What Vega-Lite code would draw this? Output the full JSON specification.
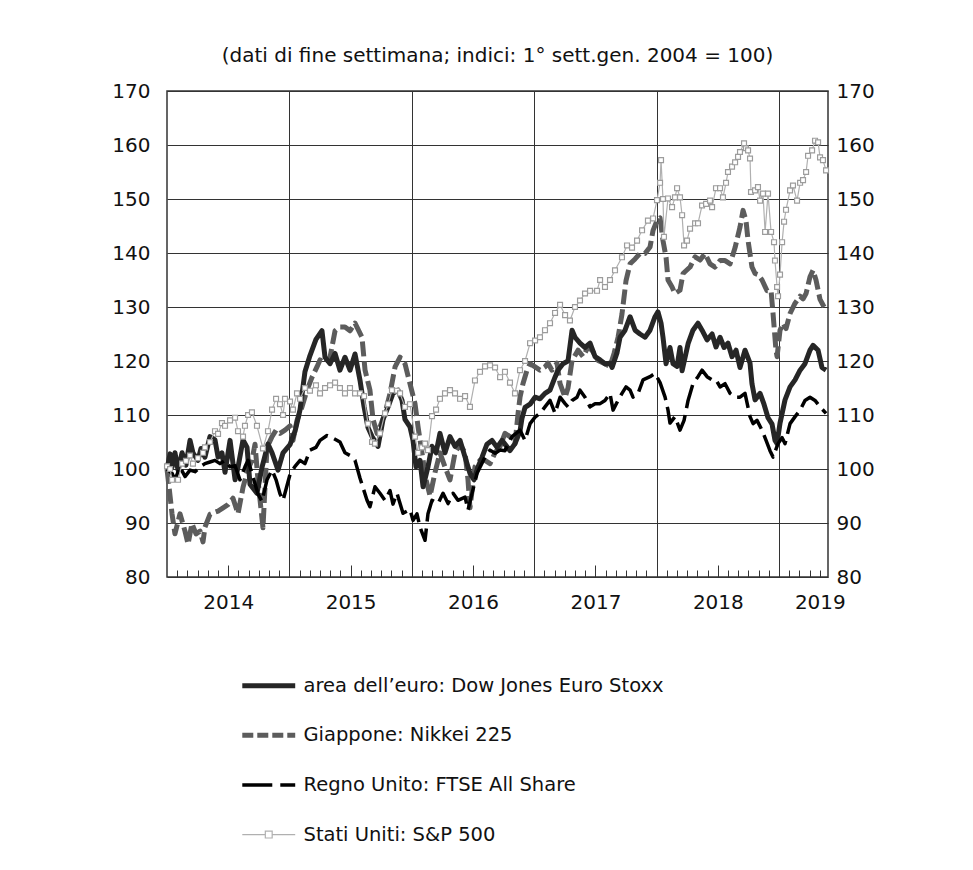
{
"$schema": "https://vega.github.io/schema/vega-lite/v6.json",
"width": 661, "height": 486,
"autosize": {"type": "none"},
"padding": {"left": 167, "top": 91, "right": 145, "bottom": 293},
"background": "#ffffff",
"title": {"text": "(dati di fine settimana; indici: 1° sett.gen. 2004 = 100)", "font": "DejaVu Sans", "fontSize": 20, "fontWeight": "normal", "color": "#111111", "offset": 15},
"config": {"view": {"stroke": "#333333", "strokeWidth": 1.5}, "font": "DejaVu Sans"},
"data": {"values": [
{"s":"EU","t":2014.000,"v":100},{"s":"EU","t":2014.025,"v":102.8},{"s":"EU","t":2014.041,"v":100.3},{"s":"EU","t":2014.065,"v":103},{"s":"EU","t":2014.090,"v":99.8},{"s":"EU","t":2014.123,"v":103},{"s":"EU","t":2014.155,"v":100.7},{"s":"EU","t":2014.188,"v":105.3},{"s":"EU","t":2014.212,"v":103},{"s":"EU","t":2014.253,"v":101.6},{"s":"EU","t":2014.278,"v":103.8},{"s":"EU","t":2014.310,"v":102.2},{"s":"EU","t":2014.351,"v":106},{"s":"EU","t":2014.392,"v":105.4},{"s":"EU","t":2014.417,"v":102.2},{"s":"EU","t":2014.449,"v":103},{"s":"EU","t":2014.474,"v":99.4},{"s":"EU","t":2014.515,"v":105.3},{"s":"EU","t":2014.556,"v":98},{"s":"EU","t":2014.580,"v":100.3},{"s":"EU","t":2014.621,"v":105.4},{"s":"EU","t":2014.654,"v":104},{"s":"EU","t":2014.678,"v":97.2},{"s":"EU","t":2014.735,"v":95.5},{"s":"EU","t":2014.776,"v":100.3},{"s":"EU","t":2014.825,"v":104.6},{"s":"EU","t":2014.858,"v":103},{"s":"EU","t":2014.907,"v":99.8},{"s":"EU","t":2014.948,"v":103},{"s":"EU","t":2015.005,"v":104.5},{"s":"EU","t":2015.046,"v":107},{"s":"EU","t":2015.087,"v":111},{"s":"EU","t":2015.127,"v":118},{"s":"EU","t":2015.168,"v":121},{"s":"EU","t":2015.217,"v":124},{"s":"EU","t":2015.266,"v":125.6},{"s":"EU","t":2015.291,"v":120.7},{"s":"EU","t":2015.332,"v":119.5},{"s":"EU","t":2015.373,"v":121.4},{"s":"EU","t":2015.413,"v":118.3},{"s":"EU","t":2015.454,"v":120.7},{"s":"EU","t":2015.495,"v":118.3},{"s":"EU","t":2015.536,"v":121.3},{"s":"EU","t":2015.577,"v":116.4},{"s":"EU","t":2015.610,"v":111.5},{"s":"EU","t":2015.642,"v":107.7},{"s":"EU","t":2015.675,"v":106},{"s":"EU","t":2015.724,"v":104.2},{"s":"EU","t":2015.765,"v":109.2},{"s":"EU","t":2015.806,"v":111.5},{"s":"EU","t":2015.846,"v":114},{"s":"EU","t":2015.887,"v":114.6},{"s":"EU","t":2015.920,"v":112.7},{"s":"EU","t":2015.944,"v":109.2},{"s":"EU","t":2015.985,"v":107.8},{"s":"EU","t":2016.010,"v":105.3},{"s":"EU","t":2016.034,"v":100.4},{"s":"EU","t":2016.067,"v":101.6},{"s":"EU","t":2016.092,"v":96.7},{"s":"EU","t":2016.132,"v":100.4},{"s":"EU","t":2016.165,"v":104.2},{"s":"EU","t":2016.198,"v":103},{"s":"EU","t":2016.230,"v":106.6},{"s":"EU","t":2016.271,"v":103},{"s":"EU","t":2016.312,"v":106},{"s":"EU","t":2016.353,"v":104.2},{"s":"EU","t":2016.394,"v":105.3},{"s":"EU","t":2016.435,"v":102.2},{"s":"EU","t":2016.475,"v":99.2},{"s":"EU","t":2016.508,"v":98},{"s":"EU","t":2016.541,"v":100.4},{"s":"EU","t":2016.574,"v":102.2},{"s":"EU","t":2016.614,"v":104.6},{"s":"EU","t":2016.655,"v":105.3},{"s":"EU","t":2016.696,"v":104},{"s":"EU","t":2016.737,"v":105.3},{"s":"EU","t":2016.802,"v":103.4},{"s":"EU","t":2016.843,"v":104.7},{"s":"EU","t":2016.884,"v":107},{"s":"EU","t":2016.900,"v":109.4},{"s":"EU","t":2016.925,"v":111.4},{"s":"EU","t":2016.966,"v":112},{"s":"EU","t":2017.007,"v":113.3},{"s":"EU","t":2017.047,"v":113},{"s":"EU","t":2017.088,"v":114},{"s":"EU","t":2017.129,"v":114.6},{"s":"EU","t":2017.170,"v":117},{"s":"EU","t":2017.194,"v":118.3},{"s":"EU","t":2017.235,"v":119.5},{"s":"EU","t":2017.276,"v":120},{"s":"EU","t":2017.309,"v":125.7},{"s":"EU","t":2017.333,"v":124.4},{"s":"EU","t":2017.374,"v":123.3},{"s":"EU","t":2017.415,"v":122.5},{"s":"EU","t":2017.456,"v":123.3},{"s":"EU","t":2017.497,"v":120.8},{"s":"EU","t":2017.538,"v":120.2},{"s":"EU","t":2017.578,"v":119.5},{"s":"EU","t":2017.619,"v":119.6},{"s":"EU","t":2017.636,"v":118.8},{"s":"EU","t":2017.676,"v":121.5},{"s":"EU","t":2017.701,"v":124.4},{"s":"EU","t":2017.742,"v":125.7},{"s":"EU","t":2017.783,"v":128.2},{"s":"EU","t":2017.824,"v":125.7},{"s":"EU","t":2017.864,"v":125},{"s":"EU","t":2017.905,"v":124.4},{"s":"EU","t":2017.946,"v":125.7},{"s":"EU","t":2017.987,"v":128.2},{"s":"EU","t":2018.011,"v":129.1},{"s":"EU","t":2018.036,"v":127},{"s":"EU","t":2018.052,"v":124.4},{"s":"EU","t":2018.077,"v":119.5},{"s":"EU","t":2018.109,"v":122.5},{"s":"EU","t":2018.134,"v":119.5},{"s":"EU","t":2018.167,"v":119},{"s":"EU","t":2018.191,"v":122.5},{"s":"EU","t":2018.208,"v":118.2},{"s":"EU","t":2018.257,"v":123.2},{"s":"EU","t":2018.297,"v":125.7},{"s":"EU","t":2018.338,"v":127},{"s":"EU","t":2018.371,"v":125.7},{"s":"EU","t":2018.412,"v":123.9},{"s":"EU","t":2018.453,"v":125},{"s":"EU","t":2018.485,"v":122.6},{"s":"EU","t":2018.518,"v":124.4},{"s":"EU","t":2018.551,"v":122.5},{"s":"EU","t":2018.583,"v":123.3},{"s":"EU","t":2018.616,"v":120.8},{"s":"EU","t":2018.649,"v":122},{"s":"EU","t":2018.681,"v":118.8},{"s":"EU","t":2018.722,"v":122},{"s":"EU","t":2018.763,"v":119.6},{"s":"EU","t":2018.779,"v":115.8},{"s":"EU","t":2018.804,"v":112.8},{"s":"EU","t":2018.845,"v":114},{"s":"EU","t":2018.877,"v":112},{"s":"EU","t":2018.910,"v":109.5},{"s":"EU","t":2018.943,"v":108.3},{"s":"EU","t":2018.967,"v":105.3},{"s":"EU","t":2018.984,"v":104.7},{"s":"EU","t":2018.992,"v":106},{"s":"EU","t":2019.008,"v":108.5},{"s":"EU","t":2019.049,"v":112.8},{"s":"EU","t":2019.090,"v":115.2},{"s":"EU","t":2019.131,"v":116.5},{"s":"EU","t":2019.172,"v":118.3},{"s":"EU","t":2019.212,"v":119.5},{"s":"EU","t":2019.253,"v":122},{"s":"EU","t":2019.278,"v":122.9},{"s":"EU","t":2019.319,"v":122},{"s":"EU","t":2019.351,"v":118.8},{"s":"EU","t":2019.384,"v":118.3},
{"s":"JP","t":2014.000,"v":100},{"s":"JP","t":2014.025,"v":95},{"s":"JP","t":2014.041,"v":91.7},{"s":"JP","t":2014.065,"v":88},{"s":"JP","t":2014.106,"v":91.7},{"s":"JP","t":2014.147,"v":88.5},{"s":"JP","t":2014.172,"v":86.1},{"s":"JP","t":2014.204,"v":89.9},{"s":"JP","t":2014.237,"v":88},{"s":"JP","t":2014.270,"v":88.5},{"s":"JP","t":2014.294,"v":86.5},{"s":"JP","t":2014.310,"v":89.2},{"s":"JP","t":2014.351,"v":91.6},{"s":"JP","t":2014.392,"v":92},{"s":"JP","t":2014.417,"v":92.2},{"s":"JP","t":2014.458,"v":92.8},{"s":"JP","t":2014.498,"v":93.4},{"s":"JP","t":2014.539,"v":94.6},{"s":"JP","t":2014.580,"v":91.7},{"s":"JP","t":2014.621,"v":96.6},{"s":"JP","t":2014.662,"v":100},{"s":"JP","t":2014.694,"v":101.6},{"s":"JP","t":2014.719,"v":104.6},{"s":"JP","t":2014.743,"v":98},{"s":"JP","t":2014.784,"v":89.1},{"s":"JP","t":2014.817,"v":104},{"s":"JP","t":2014.858,"v":106},{"s":"JP","t":2014.891,"v":107.2},{"s":"JP","t":2014.923,"v":106.6},{"s":"JP","t":2014.964,"v":107.2},{"s":"JP","t":2015.005,"v":108},{"s":"JP","t":2015.029,"v":105.3},{"s":"JP","t":2015.062,"v":109},{"s":"JP","t":2015.103,"v":111.5},{"s":"JP","t":2015.144,"v":114.6},{"s":"JP","t":2015.185,"v":117},{"s":"JP","t":2015.225,"v":118.9},{"s":"JP","t":2015.250,"v":120.2},{"s":"JP","t":2015.291,"v":119.6},{"s":"JP","t":2015.332,"v":120.7},{"s":"JP","t":2015.373,"v":125.6},{"s":"JP","t":2015.413,"v":126.3},{"s":"JP","t":2015.454,"v":126.3},{"s":"JP","t":2015.495,"v":125.6},{"s":"JP","t":2015.536,"v":127},{"s":"JP","t":2015.593,"v":124.4},{"s":"JP","t":2015.618,"v":118.3},{"s":"JP","t":2015.658,"v":114.6},{"s":"JP","t":2015.683,"v":109.2},{"s":"JP","t":2015.716,"v":106.6},{"s":"JP","t":2015.740,"v":107.8},{"s":"JP","t":2015.781,"v":110.3},{"s":"JP","t":2015.822,"v":114},{"s":"JP","t":2015.863,"v":118.9},{"s":"JP","t":2015.904,"v":120.7},{"s":"JP","t":2015.944,"v":119.5},{"s":"JP","t":2015.985,"v":115.8},{"s":"JP","t":2016.026,"v":112.1},{"s":"JP","t":2016.051,"v":107.8},{"s":"JP","t":2016.083,"v":103},{"s":"JP","t":2016.116,"v":98},{"s":"JP","t":2016.149,"v":95},{"s":"JP","t":2016.190,"v":99.4},{"s":"JP","t":2016.230,"v":103},{"s":"JP","t":2016.271,"v":100.4},{"s":"JP","t":2016.312,"v":98},{"s":"JP","t":2016.353,"v":103},{"s":"JP","t":2016.394,"v":104.6},{"s":"JP","t":2016.435,"v":103},{"s":"JP","t":2016.459,"v":98},{"s":"JP","t":2016.475,"v":92.8},{"s":"JP","t":2016.516,"v":100.4},{"s":"JP","t":2016.557,"v":101.6},{"s":"JP","t":2016.598,"v":101.6},{"s":"JP","t":2016.639,"v":101},{"s":"JP","t":2016.680,"v":103},{"s":"JP","t":2016.721,"v":104.2},{"s":"JP","t":2016.761,"v":106.6},{"s":"JP","t":2016.802,"v":106},{"s":"JP","t":2016.843,"v":104.7},{"s":"JP","t":2016.868,"v":110.3},{"s":"JP","t":2016.884,"v":113.3},{"s":"JP","t":2016.908,"v":115.8},{"s":"JP","t":2016.941,"v":118.3},{"s":"JP","t":2016.966,"v":119.5},{"s":"JP","t":2017.007,"v":118.9},{"s":"JP","t":2017.047,"v":118.3},{"s":"JP","t":2017.088,"v":118.9},{"s":"JP","t":2017.113,"v":119.6},{"s":"JP","t":2017.145,"v":118.3},{"s":"JP","t":2017.186,"v":119.6},{"s":"JP","t":2017.211,"v":115.8},{"s":"JP","t":2017.252,"v":113.3},{"s":"JP","t":2017.276,"v":115},{"s":"JP","t":2017.309,"v":120.1},{"s":"JP","t":2017.358,"v":122},{"s":"JP","t":2017.399,"v":120.8},{"s":"JP","t":2017.440,"v":122.6},{"s":"JP","t":2017.472,"v":122},{"s":"JP","t":2017.521,"v":120.1},{"s":"JP","t":2017.578,"v":119.5},{"s":"JP","t":2017.619,"v":119},{"s":"JP","t":2017.652,"v":121.4},{"s":"JP","t":2017.685,"v":124.4},{"s":"JP","t":2017.717,"v":128.7},{"s":"JP","t":2017.750,"v":134.9},{"s":"JP","t":2017.783,"v":138},{"s":"JP","t":2017.824,"v":138.9},{"s":"JP","t":2017.864,"v":139.9},{"s":"JP","t":2017.905,"v":139.9},{"s":"JP","t":2017.946,"v":141.1},{"s":"JP","t":2017.971,"v":144.2},{"s":"JP","t":2018.003,"v":146},{"s":"JP","t":2018.028,"v":146.5},{"s":"JP","t":2018.052,"v":142.3},{"s":"JP","t":2018.077,"v":139.2},{"s":"JP","t":2018.093,"v":135},{"s":"JP","t":2018.126,"v":133.7},{"s":"JP","t":2018.150,"v":132.5},{"s":"JP","t":2018.191,"v":133.1},{"s":"JP","t":2018.216,"v":136.2},{"s":"JP","t":2018.273,"v":137.4},{"s":"JP","t":2018.314,"v":139.3},{"s":"JP","t":2018.355,"v":138.7},{"s":"JP","t":2018.395,"v":139.9},{"s":"JP","t":2018.436,"v":138},{"s":"JP","t":2018.477,"v":137.4},{"s":"JP","t":2018.518,"v":138.6},{"s":"JP","t":2018.559,"v":138.6},{"s":"JP","t":2018.600,"v":138},{"s":"JP","t":2018.641,"v":141},{"s":"JP","t":2018.681,"v":144.8},{"s":"JP","t":2018.706,"v":147.9},{"s":"JP","t":2018.730,"v":146},{"s":"JP","t":2018.747,"v":142.3},{"s":"JP","t":2018.779,"v":137.4},{"s":"JP","t":2018.804,"v":136.2},{"s":"JP","t":2018.828,"v":136},{"s":"JP","t":2018.861,"v":135},{"s":"JP","t":2018.902,"v":133},{"s":"JP","t":2018.935,"v":133},{"s":"JP","t":2018.951,"v":128.8},{"s":"JP","t":2018.975,"v":122},{"s":"JP","t":2018.984,"v":120.8},{"s":"JP","t":2019.008,"v":125.7},{"s":"JP","t":2019.033,"v":127},{"s":"JP","t":2019.057,"v":126},{"s":"JP","t":2019.090,"v":128.8},{"s":"JP","t":2019.131,"v":130.7},{"s":"JP","t":2019.172,"v":132},{"s":"JP","t":2019.196,"v":131.5},{"s":"JP","t":2019.221,"v":132.5},{"s":"JP","t":2019.253,"v":135.6},{"s":"JP","t":2019.278,"v":136.8},{"s":"JP","t":2019.302,"v":135},{"s":"JP","t":2019.335,"v":131.4},{"s":"JP","t":2019.368,"v":130},
{"s":"UK","t":2014.000,"v":100},{"s":"UK","t":2014.041,"v":99.2},{"s":"UK","t":2014.065,"v":98},{"s":"UK","t":2014.106,"v":100.4},{"s":"UK","t":2014.147,"v":98.6},{"s":"UK","t":2014.188,"v":99.8},{"s":"UK","t":2014.229,"v":99.5},{"s":"UK","t":2014.270,"v":100.4},{"s":"UK","t":2014.310,"v":101},{"s":"UK","t":2014.351,"v":101.3},{"s":"UK","t":2014.392,"v":101.6},{"s":"UK","t":2014.433,"v":101},{"s":"UK","t":2014.474,"v":101.6},{"s":"UK","t":2014.515,"v":100.4},{"s":"UK","t":2014.556,"v":100.6},{"s":"UK","t":2014.596,"v":98},{"s":"UK","t":2014.637,"v":100.4},{"s":"UK","t":2014.662,"v":101.6},{"s":"UK","t":2014.694,"v":99.2},{"s":"UK","t":2014.743,"v":95.4},{"s":"UK","t":2014.776,"v":94},{"s":"UK","t":2014.817,"v":98},{"s":"UK","t":2014.858,"v":99.8},{"s":"UK","t":2014.891,"v":98},{"s":"UK","t":2014.923,"v":95.4},{"s":"UK","t":2014.948,"v":94.2},{"s":"UK","t":2015.005,"v":99},{"s":"UK","t":2015.046,"v":100.5},{"s":"UK","t":2015.087,"v":101.6},{"s":"UK","t":2015.127,"v":101},{"s":"UK","t":2015.168,"v":103.5},{"s":"UK","t":2015.217,"v":104},{"s":"UK","t":2015.250,"v":105.3},{"s":"UK","t":2015.307,"v":106.2},{"s":"UK","t":2015.356,"v":105.7},{"s":"UK","t":2015.413,"v":105},{"s":"UK","t":2015.454,"v":103},{"s":"UK","t":2015.495,"v":102.5},{"s":"UK","t":2015.536,"v":101.6},{"s":"UK","t":2015.577,"v":98.3},{"s":"UK","t":2015.634,"v":94.2},{"s":"UK","t":2015.658,"v":93},{"s":"UK","t":2015.699,"v":96.7},{"s":"UK","t":2015.740,"v":95.5},{"s":"UK","t":2015.781,"v":94.2},{"s":"UK","t":2015.822,"v":96},{"s":"UK","t":2015.846,"v":93.5},{"s":"UK","t":2015.879,"v":95.5},{"s":"UK","t":2015.928,"v":91.8},{"s":"UK","t":2015.985,"v":92.5},{"s":"UK","t":2016.010,"v":90.5},{"s":"UK","t":2016.042,"v":91.7},{"s":"UK","t":2016.067,"v":89.2},{"s":"UK","t":2016.108,"v":86.8},{"s":"UK","t":2016.132,"v":91.7},{"s":"UK","t":2016.165,"v":94.2},{"s":"UK","t":2016.214,"v":93.6},{"s":"UK","t":2016.255,"v":95.5},{"s":"UK","t":2016.296,"v":93.6},{"s":"UK","t":2016.337,"v":95.5},{"s":"UK","t":2016.377,"v":94.2},{"s":"UK","t":2016.435,"v":94.8},{"s":"UK","t":2016.459,"v":92.4},{"s":"UK","t":2016.492,"v":95.5},{"s":"UK","t":2016.533,"v":99.2},{"s":"UK","t":2016.598,"v":102.2},{"s":"UK","t":2016.639,"v":103.5},{"s":"UK","t":2016.680,"v":102.9},{"s":"UK","t":2016.721,"v":103.5},{"s":"UK","t":2016.761,"v":103.4},{"s":"UK","t":2016.819,"v":106},{"s":"UK","t":2016.884,"v":107.2},{"s":"UK","t":2016.925,"v":105.3},{"s":"UK","t":2016.966,"v":108.4},{"s":"UK","t":2017.007,"v":109.6},{"s":"UK","t":2017.047,"v":110.3},{"s":"UK","t":2017.088,"v":111.5},{"s":"UK","t":2017.129,"v":112.7},{"s":"UK","t":2017.170,"v":110.3},{"s":"UK","t":2017.211,"v":113.3},{"s":"UK","t":2017.252,"v":112.1},{"s":"UK","t":2017.276,"v":111.5},{"s":"UK","t":2017.309,"v":112.7},{"s":"UK","t":2017.350,"v":113.3},{"s":"UK","t":2017.374,"v":114.6},{"s":"UK","t":2017.415,"v":113.3},{"s":"UK","t":2017.456,"v":111.5},{"s":"UK","t":2017.497,"v":112.1},{"s":"UK","t":2017.538,"v":112.1},{"s":"UK","t":2017.578,"v":112.7},{"s":"UK","t":2017.619,"v":114},{"s":"UK","t":2017.644,"v":110.9},{"s":"UK","t":2017.685,"v":112.7},{"s":"UK","t":2017.717,"v":114},{"s":"UK","t":2017.750,"v":115.2},{"s":"UK","t":2017.783,"v":114.6},{"s":"UK","t":2017.807,"v":113.3},{"s":"UK","t":2017.848,"v":114},{"s":"UK","t":2017.889,"v":116.5},{"s":"UK","t":2017.946,"v":117.1},{"s":"UK","t":2017.987,"v":117.7},{"s":"UK","t":2018.028,"v":116},{"s":"UK","t":2018.069,"v":113.3},{"s":"UK","t":2018.093,"v":110.9},{"s":"UK","t":2018.109,"v":108.5},{"s":"UK","t":2018.150,"v":109.7},{"s":"UK","t":2018.191,"v":107.2},{"s":"UK","t":2018.224,"v":109},{"s":"UK","t":2018.257,"v":112.7},{"s":"UK","t":2018.297,"v":115.8},{"s":"UK","t":2018.338,"v":117.1},{"s":"UK","t":2018.371,"v":118.3},{"s":"UK","t":2018.412,"v":117.1},{"s":"UK","t":2018.453,"v":116.5},{"s":"UK","t":2018.485,"v":116.5},{"s":"UK","t":2018.518,"v":115.2},{"s":"UK","t":2018.559,"v":115.8},{"s":"UK","t":2018.600,"v":114},{"s":"UK","t":2018.641,"v":113.3},{"s":"UK","t":2018.681,"v":113.3},{"s":"UK","t":2018.722,"v":114},{"s":"UK","t":2018.763,"v":109.7},{"s":"UK","t":2018.788,"v":108.4},{"s":"UK","t":2018.820,"v":109},{"s":"UK","t":2018.861,"v":107.2},{"s":"UK","t":2018.894,"v":105.3},{"s":"UK","t":2018.926,"v":103.4},{"s":"UK","t":2018.951,"v":102.2},{"s":"UK","t":2018.992,"v":104.7},{"s":"UK","t":2019.025,"v":105.8},{"s":"UK","t":2019.049,"v":104.7},{"s":"UK","t":2019.090,"v":108.4},{"s":"UK","t":2019.131,"v":109.7},{"s":"UK","t":2019.172,"v":110.9},{"s":"UK","t":2019.212,"v":112.7},{"s":"UK","t":2019.253,"v":113.3},{"s":"UK","t":2019.294,"v":112.7},{"s":"UK","t":2019.335,"v":111.5},{"s":"UK","t":2019.384,"v":110.3},
{"s":"US","t":2014.000,"v":100.5},{"s":"US","t":2014.025,"v":100},{"s":"US","t":2014.041,"v":98},{"s":"US","t":2014.090,"v":98},{"s":"US","t":2014.123,"v":101},{"s":"US","t":2014.155,"v":101.5},{"s":"US","t":2014.188,"v":102.5},{"s":"US","t":2014.212,"v":101},{"s":"US","t":2014.253,"v":102},{"s":"US","t":2014.294,"v":103},{"s":"US","t":2014.310,"v":104},{"s":"US","t":2014.351,"v":105},{"s":"US","t":2014.392,"v":107},{"s":"US","t":2014.417,"v":106.5},{"s":"US","t":2014.449,"v":108.5},{"s":"US","t":2014.474,"v":108},{"s":"US","t":2014.515,"v":109},{"s":"US","t":2014.556,"v":109.5},{"s":"US","t":2014.580,"v":107},{"s":"US","t":2014.621,"v":106},{"s":"US","t":2014.637,"v":108},{"s":"US","t":2014.662,"v":110},{"s":"US","t":2014.694,"v":110.5},{"s":"US","t":2014.735,"v":108},{"s":"US","t":2014.784,"v":103.8},{"s":"US","t":2014.825,"v":107},{"s":"US","t":2014.858,"v":111},{"s":"US","t":2014.891,"v":113},{"s":"US","t":2014.923,"v":112},{"s":"US","t":2014.948,"v":110},{"s":"US","t":2014.964,"v":113},{"s":"US","t":2015.005,"v":112.5},{"s":"US","t":2015.029,"v":111},{"s":"US","t":2015.062,"v":114},{"s":"US","t":2015.087,"v":113},{"s":"US","t":2015.127,"v":115},{"s":"US","t":2015.168,"v":114.5},{"s":"US","t":2015.217,"v":115.5},{"s":"US","t":2015.250,"v":114},{"s":"US","t":2015.291,"v":115},{"s":"US","t":2015.332,"v":115.5},{"s":"US","t":2015.373,"v":116},{"s":"US","t":2015.413,"v":115},{"s":"US","t":2015.454,"v":114},{"s":"US","t":2015.495,"v":115},{"s":"US","t":2015.536,"v":114},{"s":"US","t":2015.577,"v":114},{"s":"US","t":2015.610,"v":113.5},{"s":"US","t":2015.642,"v":108.4},{"s":"US","t":2015.675,"v":105},{"s":"US","t":2015.699,"v":104.7},{"s":"US","t":2015.740,"v":106.6},{"s":"US","t":2015.781,"v":110.3},{"s":"US","t":2015.806,"v":112},{"s":"US","t":2015.838,"v":114.6},{"s":"US","t":2015.879,"v":114.5},{"s":"US","t":2015.904,"v":114},{"s":"US","t":2015.944,"v":111.5},{"s":"US","t":2015.985,"v":112},{"s":"US","t":2016.026,"v":106},{"s":"US","t":2016.051,"v":103},{"s":"US","t":2016.083,"v":104},{"s":"US","t":2016.108,"v":104.7},{"s":"US","t":2016.132,"v":103.5},{"s":"US","t":2016.165,"v":109.8},{"s":"US","t":2016.198,"v":111},{"s":"US","t":2016.230,"v":113},{"s":"US","t":2016.271,"v":114},{"s":"US","t":2016.312,"v":114.6},{"s":"US","t":2016.353,"v":114},{"s":"US","t":2016.394,"v":113},{"s":"US","t":2016.435,"v":113.5},{"s":"US","t":2016.475,"v":111.5},{"s":"US","t":2016.516,"v":116.4},{"s":"US","t":2016.557,"v":118},{"s":"US","t":2016.598,"v":119},{"s":"US","t":2016.639,"v":119.2},{"s":"US","t":2016.680,"v":118.8},{"s":"US","t":2016.721,"v":117},{"s":"US","t":2016.761,"v":118},{"s":"US","t":2016.802,"v":116},{"s":"US","t":2016.843,"v":114},{"s":"US","t":2016.884,"v":118.3},{"s":"US","t":2016.925,"v":120},{"s":"US","t":2016.966,"v":123.3},{"s":"US","t":2017.007,"v":123.8},{"s":"US","t":2017.047,"v":124.4},{"s":"US","t":2017.088,"v":125.7},{"s":"US","t":2017.129,"v":127},{"s":"US","t":2017.170,"v":128.9},{"s":"US","t":2017.211,"v":130.4},{"s":"US","t":2017.252,"v":128.5},{"s":"US","t":2017.292,"v":127.5},{"s":"US","t":2017.333,"v":130},{"s":"US","t":2017.374,"v":131.2},{"s":"US","t":2017.415,"v":132.5},{"s":"US","t":2017.456,"v":133},{"s":"US","t":2017.513,"v":133},{"s":"US","t":2017.538,"v":135},{"s":"US","t":2017.578,"v":133.7},{"s":"US","t":2017.619,"v":135},{"s":"US","t":2017.660,"v":136.8},{"s":"US","t":2017.717,"v":139.2},{"s":"US","t":2017.758,"v":141.4},{"s":"US","t":2017.799,"v":141},{"s":"US","t":2017.840,"v":142.3},{"s":"US","t":2017.881,"v":144.2},{"s":"US","t":2017.929,"v":146},{"s":"US","t":2017.971,"v":146.4},{"s":"US","t":2018.003,"v":149.8},{"s":"US","t":2018.028,"v":153},{"s":"US","t":2018.036,"v":157.2},{"s":"US","t":2018.052,"v":150},{"s":"US","t":2018.060,"v":143},{"s":"US","t":2018.093,"v":150.1},{"s":"US","t":2018.126,"v":148.5},{"s":"US","t":2018.150,"v":150.3},{"s":"US","t":2018.167,"v":152},{"s":"US","t":2018.191,"v":150.3},{"s":"US","t":2018.208,"v":147},{"s":"US","t":2018.224,"v":141.4},{"s":"US","t":2018.248,"v":142.3},{"s":"US","t":2018.273,"v":144.5},{"s":"US","t":2018.314,"v":145.5},{"s":"US","t":2018.338,"v":145.5},{"s":"US","t":2018.371,"v":148.8},{"s":"US","t":2018.404,"v":149.1},{"s":"US","t":2018.436,"v":149.7},{"s":"US","t":2018.453,"v":148.5},{"s":"US","t":2018.485,"v":152},{"s":"US","t":2018.518,"v":152},{"s":"US","t":2018.542,"v":150.3},{"s":"US","t":2018.567,"v":153},{"s":"US","t":2018.583,"v":155},{"s":"US","t":2018.616,"v":156},{"s":"US","t":2018.641,"v":156.8},{"s":"US","t":2018.665,"v":157.8},{"s":"US","t":2018.681,"v":158.7},{"s":"US","t":2018.714,"v":160.3},{"s":"US","t":2018.730,"v":159.4},{"s":"US","t":2018.747,"v":159},{"s":"US","t":2018.763,"v":157.5},{"s":"US","t":2018.771,"v":151.3},{"s":"US","t":2018.804,"v":151.6},{"s":"US","t":2018.828,"v":152.2},{"s":"US","t":2018.845,"v":149.7},{"s":"US","t":2018.869,"v":151},{"s":"US","t":2018.886,"v":143.9},{"s":"US","t":2018.910,"v":151},{"s":"US","t":2018.935,"v":143.9},{"s":"US","t":2018.959,"v":142},{"s":"US","t":2018.967,"v":138.6},{"s":"US","t":2018.984,"v":133.7},{"s":"US","t":2018.992,"v":132},{"s":"US","t":2019.008,"v":136},{"s":"US","t":2019.025,"v":142},{"s":"US","t":2019.041,"v":145.8},{"s":"US","t":2019.057,"v":148},{"s":"US","t":2019.090,"v":151.6},{"s":"US","t":2019.114,"v":152.5},{"s":"US","t":2019.147,"v":149.7},{"s":"US","t":2019.172,"v":153},{"s":"US","t":2019.196,"v":153.5},{"s":"US","t":2019.221,"v":155},{"s":"US","t":2019.237,"v":158},{"s":"US","t":2019.270,"v":159},{"s":"US","t":2019.294,"v":160.8},{"s":"US","t":2019.319,"v":160.5},{"s":"US","t":2019.335,"v":157.7},{"s":"US","t":2019.359,"v":157.2},{"s":"US","t":2019.384,"v":155.3}
]},
"resolve": {"axis": {"x": "independent", "y": "independent"}},
"layer": [
{"transform": [{"filter": "datum.s == 'JP'"}],
 "mark": {"type": "line", "strokeWidth": 5, "strokeDash": [15, 5], "strokeJoin": "round"},
 "encoding": {
  "x": {"field": "t", "type": "quantitative", "scale": {"domain": [2014, 2019.4], "nice": false, "zero": false},
   "axis": {"title": null, "orient": "bottom",
    "values": [2014.0833,2014.1667,2014.25,2014.3333,2014.4167,2014.5833,2014.6667,2014.75,2014.8333,2014.9167,2015,2015.0833,2015.1667,2015.25,2015.3333,2015.4167,2015.5833,2015.6667,2015.75,2015.8333,2015.9167,2016,2016.0833,2016.1667,2016.25,2016.3333,2016.4167,2016.5833,2016.6667,2016.75,2016.8333,2016.9167,2017,2017.0833,2017.1667,2017.25,2017.3333,2017.4167,2017.5833,2017.6667,2017.75,2017.8333,2017.9167,2018,2018.0833,2018.1667,2018.25,2018.3333,2018.4167,2018.5833,2018.6667,2018.75,2018.8333,2018.9167,2019,2019.0833,2019.1667,2019.25,2019.3333],
    "labels": false,
    "domain": false,
    "ticks": true, "tickColor": "#333333", "tickWidth": 1, "tickSize": -7,
    "grid": true, "gridColor": "#333333", "gridWidth": 1,
    "gridOpacity": {"condition": {"test": "abs(datum.value - round(datum.value)) < 0.001", "value": 1}, "value": 0}}},
  "y": {"field": "v", "type": "quantitative", "scale": {"domain": [80, 170], "nice": false, "zero": false},
   "axis": {"title": null, "orient": "left", "values": [80,90,100,110,120,130,140,150,160,170], "labelFont": "DejaVu Sans", "labelFontSize": 20, "labelColor": "#111111", "labelPadding": 17, "ticks": false, "domain": false, "grid": true, "gridColor": "#333333", "gridWidth": 1}},
  "stroke": {"field": "s", "type": "nominal",
   "scale": {"domain": ["EU", "JP", "UK", "US"], "range": ["#262626", "#5c5c5c", "#000000", "#b0b0b0"]},
   "legend": {"title": null, "orient": "none", "legendX": 92, "legendY": 585, "direction": "vertical",
    "labelFont": "DejaVu Sans", "labelFontSize": 19.5, "labelColor": "#111111", "labelLimit": 600, "labelOffset": 25,
    "symbolType": "stroke", "symbolSize": 2401, "rowPadding": 28.6, "padding": 0,
    "labelExpr": "datum.value == 'EU' ? 'area dell’euro: Dow Jones Euro Stoxx' : datum.value == 'JP' ? 'Giappone: Nikkei 225' : datum.value == 'UK' ? 'Regno Unito: FTSE All Share' : 'Stati Uniti: S&P 500'",
    "encode": {"symbols": {"update": {
      "shape": {"signal": "datum.value == 'US' ? 'M-1.08,0H-0.14M0.14,0H1.08M-0.14,-0.14H0.14V0.14H-0.14Z' : 'M-1.08,0H1.08'"},
      "strokeWidth": {"signal": "datum.value == 'US' ? 1.2 : datum.value == 'UK' ? 3.5 : 5"},
      "strokeDash": {"signal": "datum.value == 'JP' ? [11, 4] : datum.value == 'UK' ? [30, 8] : [1, 0]"},
      "fill": {"value": "#ffffff"}}}}}}
 }},
{"transform": [{"filter": "datum.s == 'EU'"}],
 "mark": {"type": "line", "strokeWidth": 5, "strokeJoin": "round"},
 "encoding": {
  "x": {"field": "t", "type": "quantitative", "axis": null},
  "y": {"field": "v", "type": "quantitative", "axis": null},
  "stroke": {"field": "s", "type": "nominal"}}},
{"transform": [{"filter": "datum.s == 'UK'"}],
 "mark": {"type": "line", "strokeWidth": 3.5, "strokeDash": [24, 7], "strokeJoin": "round"},
 "encoding": {
  "x": {"field": "t", "type": "quantitative", "axis": null},
  "y": {"field": "v", "type": "quantitative", "axis": null},
  "stroke": {"field": "s", "type": "nominal"}}},
{"transform": [{"filter": "datum.s == 'US'"}],
 "mark": {"type": "line", "strokeWidth": 1.2, "strokeJoin": "round"},
 "encoding": {
  "x": {"field": "t", "type": "quantitative", "axis": null},
  "y": {"field": "v", "type": "quantitative", "axis": null},
  "stroke": {"field": "s", "type": "nominal"}}},
{"transform": [{"filter": "datum.s == 'US'"}],
 "mark": {"type": "point", "shape": "square", "size": 24, "filled": true, "fill": "#ffffff", "stroke": "#9c9c9c", "strokeWidth": 1.2, "opacity": 1},
 "encoding": {
  "x": {"field": "t", "type": "quantitative",
   "axis": {"title": null, "orient": "bottom", "values": [2014.5, 2015.5, 2016.5, 2017.5, 2018.5, 2019.3333],
    "labelExpr": "format(floor(datum.value), 'd')",
    "labelOverlap": false, "labelFlush": false, "labelBound": false,
    "labelFont": "DejaVu Sans", "labelFontSize": 20, "labelColor": "#111111", "labelPadding": 27,
    "domain": false, "grid": false,
    "ticks": true, "tickColor": "#333333", "tickWidth": 1, "tickSize": -12,
    "tickOpacity": {"condition": {"test": "datum.value > 2019", "value": 0}, "value": 1}}},
  "y": {"field": "v", "type": "quantitative",
   "axis": {"title": null, "orient": "right", "values": [80,90,100,110,120,130,140,150,160,170], "labelFont": "DejaVu Sans", "labelFontSize": 20, "labelColor": "#111111", "labelPadding": 8, "ticks": false, "domain": false, "grid": false}}}}
]
}
